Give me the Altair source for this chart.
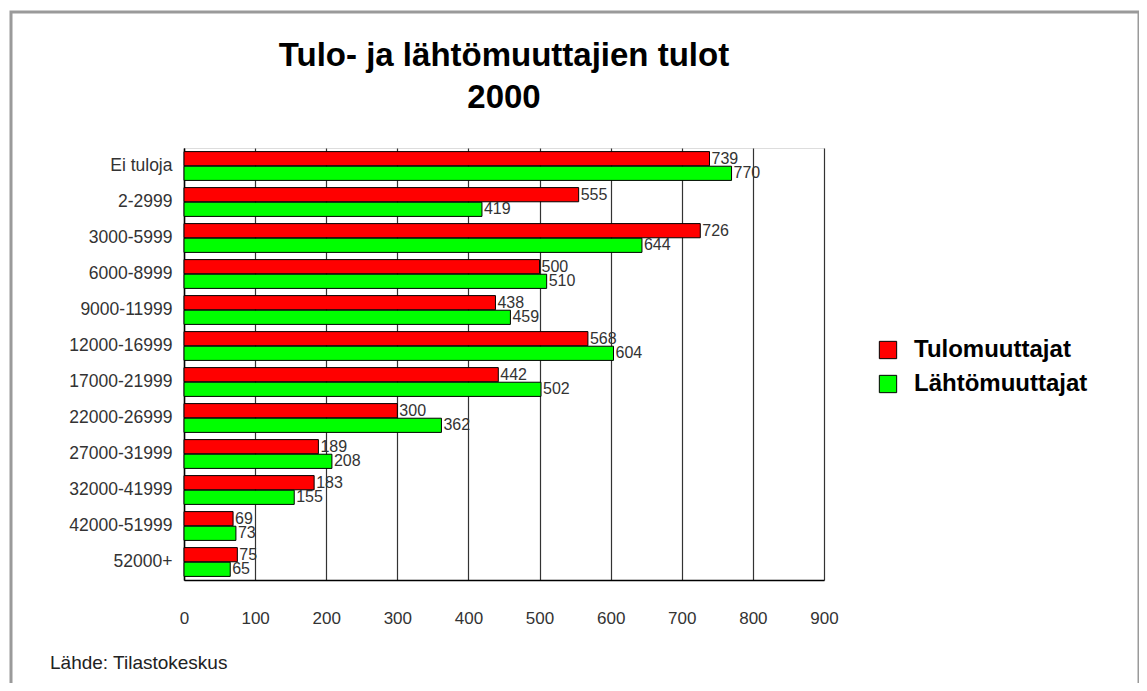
import altair as alt
import pandas as pd

categories = ["Ei tuloja", "2-2999", "3000-5999", "6000-8999", "9000-11999",
              "12000-16999", "17000-21999", "22000-26999", "27000-31999",
              "32000-41999", "42000-51999", "52000+"]
tulo = [739, 555, 726, 500, 438, 568, 442, 300, 189, 183, 69, 75]
lahto = [770, 419, 644, 510, 459, 604, 502, 362, 208, 155, 73, 65]
series = ["Tulomuuttajat", "Lähtömuuttajat"]
colors = ["#FF0000", "#00FF00"]
x_ticks = [0, 100, 200, 300, 400, 500, 600, 700, 800, 900]
title_lines = ["Tulo- ja lähtömuuttajien tulot", "2000"]
source_text = ["Lähde: Tilastokeskus"]

rows = []
for c, a, b in zip(categories, tulo, lahto):
    rows.append({"cat": c, "series": series[0], "value": a})
    rows.append({"cat": c, "series": series[1], "value": b})
df = pd.DataFrame(rows)

FONT = "Liberation Sans"
W, H = 640, 432

y_enc = alt.Y("cat:N", sort=categories,
              scale=alt.Scale(paddingInner=0.2, paddingOuter=0.1),
              axis=alt.Axis(title=None, ticks=False, labelPadding=12,
                            labelFontSize=17.5, labelColor="#333333",
                            labelFont=FONT, domainColor="#000000",
                            domainWidth=1.5, labelLimit=300))
yoff = alt.YOffset("series:N", sort=series, scale=alt.Scale(paddingInner=0.03))
x_enc = alt.X("value:Q", scale=alt.Scale(domain=[0, 900], nice=False),
              axis=alt.Axis(title=None, values=x_ticks, ticks=False,
                            labelPadding=30, labelFontSize=17,
                            labelFlush=False,
                            labelColor="#333333", labelFont=FONT,
                            grid=True, gridColor="#333333", gridWidth=1.2,
                            domainColor="#000000", domainWidth=1.5))

bars = alt.Chart(df).mark_bar(stroke="#000000", strokeWidth=1).encode(
    y=y_enc, yOffset=yoff, x=x_enc,
    color=alt.Color("series:N", sort=series,
                    scale=alt.Scale(domain=series, range=colors),
                    legend=alt.Legend(title=None, orient="none",
                                      legendX=692, legendY=190,
                                      symbolType="square", symbolSize=300,
                                      symbolStrokeColor="#000000",
                                      symbolStrokeWidth=1,
                                      labelFontSize=24, labelFontWeight="bold",
                                      labelFont=FONT, labelColor="#000000",
                                      labelOffset=14, rowPadding=10,
                                      labelLimit=400, symbolOpacity=1))
)

labels = alt.Chart(df).mark_text(align="left", baseline="middle", dx=2,
                                 fontSize=16, color="#333333", font=FONT).encode(
    y=alt.Y("cat:N", sort=categories), yOffset=alt.YOffset("series:N", sort=series),
    x=alt.X("value:Q"), text=alt.Text("value:Q")
)

frame_df = pd.DataFrame({"k": [0]})
frame = alt.Chart(frame_df).mark_rect(fillOpacity=0, stroke="#9a9a9a",
                                      strokeWidth=3).encode(
    x=alt.value(-173), x2=alt.value(955), y=alt.value(-136), y2=alt.value(545)
)

title_df = pd.DataFrame({"t": title_lines, "yy": [-92, -50]})
title = alt.Chart(title_df).mark_text(align="center", baseline="middle",
                                      fontSize=33, fontWeight="bold",
                                      color="#000000", font=FONT).encode(
    x=alt.value(W / 2), y=alt.Y("yy:Q", scale=None), text="t:N"
)

footer_df = pd.DataFrame({"t": source_text})
footer = alt.Chart(footer_df).mark_text(align="left", baseline="middle",
                                        fontSize=19, color="#222222",
                                        font=FONT).encode(
    x=alt.value(-134), y=alt.value(515), text="t:N"
)

chart = alt.layer(frame, bars, labels, title, footer).properties(
    width=W, height=H,
    autosize=alt.AutoSizeParams(type="none"),
    padding={"left": 176, "top": 140, "right": 315, "bottom": 103},
).configure_view(stroke="#555555", strokeWidth=1.5).configure(background="#ffffff")

chart.save("out.html", embed_options={"renderer": "svg", "actions": False})
